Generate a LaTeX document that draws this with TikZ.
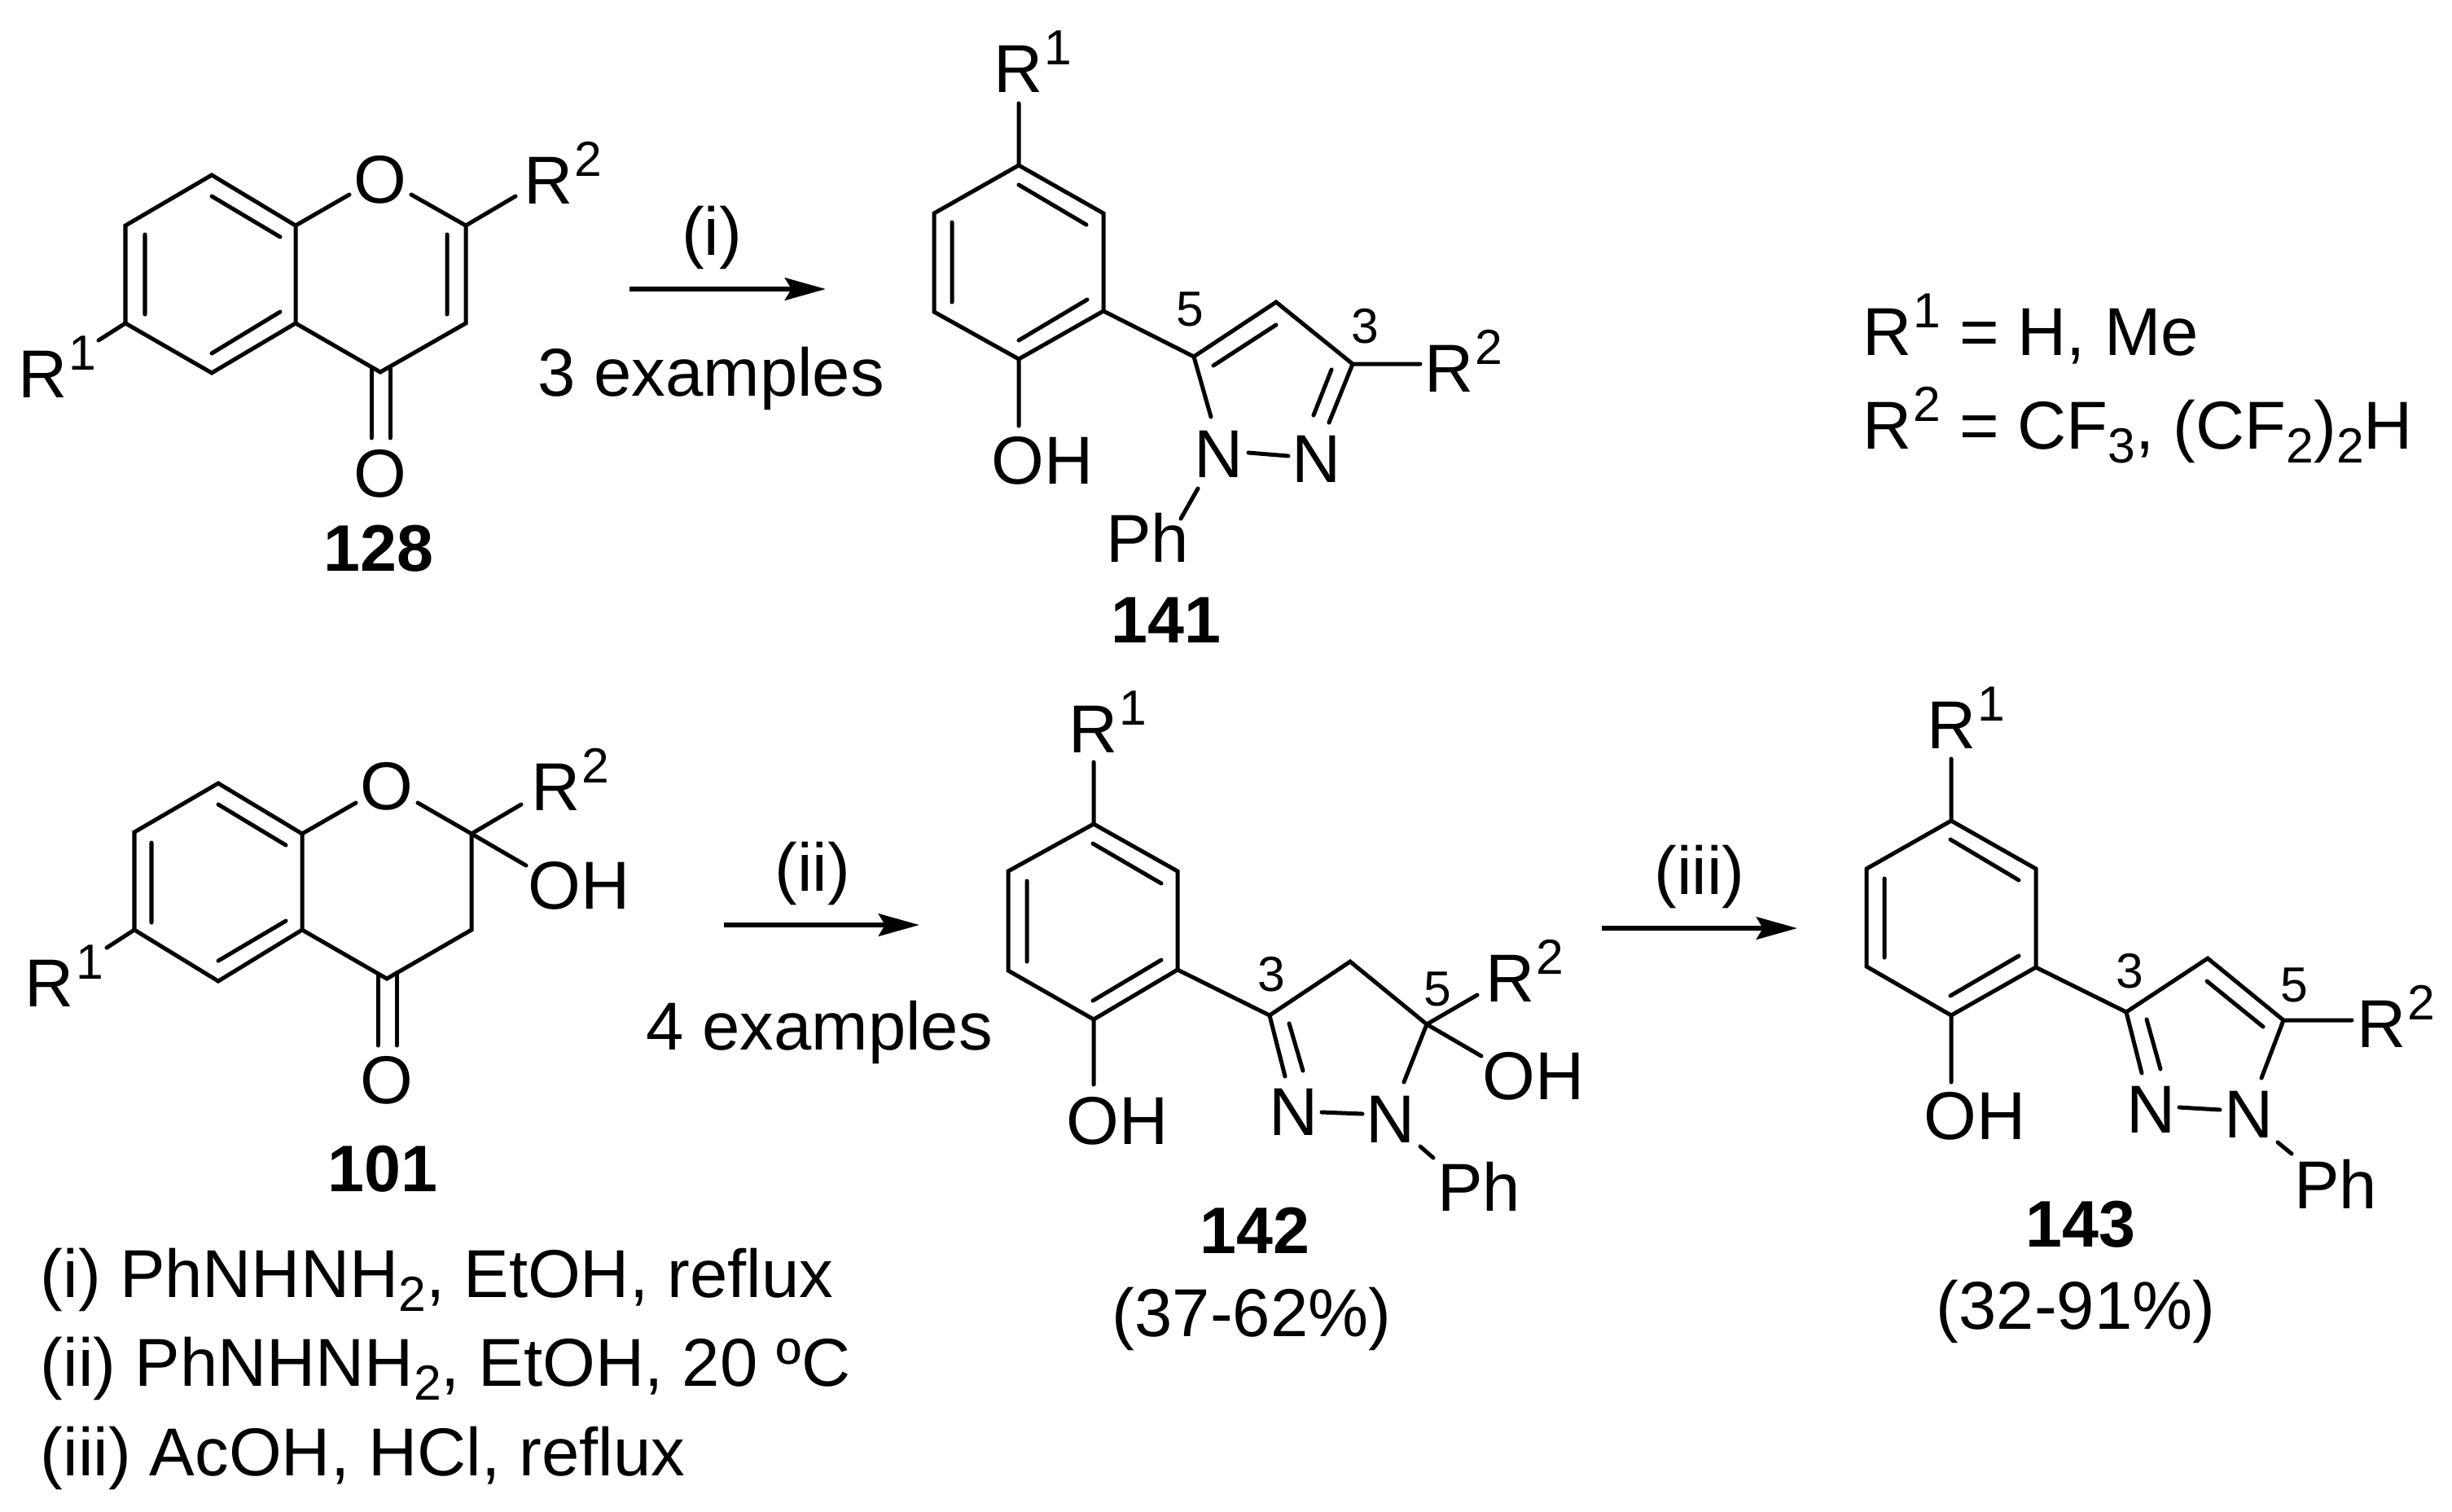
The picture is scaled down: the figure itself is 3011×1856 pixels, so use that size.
\documentclass[tikz,border=0pt]{standalone}
\usepackage{fontspec}
\setmainfont{Liberation Sans}
\usetikzlibrary{arrows.meta}
\newcommand{\mainsz}{\fontsize{47.4}{50}\selectfont}
\newcommand{\boldsz}{\fontsize{46}{50}\selectfont}
\newcommand{\smallsz}{\fontsize{34.5}{36}\selectfont}
\newcommand{\Rsup}[1]{R\kern1.2pt\raisebox{19pt}{\smallsz #1}}
\newcommand{\sbs}[1]{\raisebox{-9.7pt}{\smallsz #1}}
\tikzset{
  x=0.02cm,y=-0.02cm,
  lab/.style={inner sep=0pt,outer sep=0pt,anchor=base west,font=\mainsz,text=black},
  cen/.style={inner sep=0pt,outer sep=0pt,anchor=base,font=\mainsz,text=black},
  boldlab/.style={cen,font=\boldsz\bfseries},
  locant/.style={inner sep=0pt,outer sep=0pt,anchor=base,font=\smallsz,text=black},
  bond/.style={draw=black,line width=2.85pt,line join=miter,line cap=round},
  rxn/.style={draw=black,line width=3.4pt,-{Stealth[length=28.5pt,width=15.6pt,inset=4.5pt]}},
}
\begin{document}
\begin{tikzpicture}
\useasboundingbox[fill=white] (0,0) rectangle (3011,1856);

% ---------- 128 ----------
\coordinate (a1) at (260,215); \coordinate (a2) at (154,277); \coordinate (a3) at (154,397);
\coordinate (a4) at (260,458); \coordinate (a5) at (363,397); \coordinate (a6) at (363,277);
\coordinate (a7) at (572,277); \coordinate (a8) at (572,397); \coordinate (a9) at (467,457);
\coordinate (aOl) at (429,239); \coordinate (aOr) at (505,239);
\coordinate (aR1) at (121,418); \coordinate (aR2) at (633,241);
\coordinate (ai1) at (260,241); \coordinate (ai2) at (344,291);
\coordinate (ai3) at (178,288); \coordinate (ai4) at (178,386);
\coordinate (ai5) at (344,383); \coordinate (ai6) at (260,434);
\coordinate (ai7) at (549,288); \coordinate (ai8) at (549,386);
\coordinate (aC1) at (456,451); \coordinate (aC2) at (456,538);
\coordinate (aC3) at (479,451); \coordinate (aC4) at (479,538);
\draw[bond] (a1)--(a2)--(a3)--(a4)--(a5)--(a6)--cycle;
\draw[bond] (a6)--(aOl) (aOr)--(a7)--(a8)--(a9)--(a5);
\draw[bond] (a3)--(aR1) (a7)--(aR2);
\draw[bond] (ai1)--(ai2) (ai3)--(ai4) (ai5)--(ai6) (ai7)--(ai8);
\draw[bond] (aC1)--(aC2) (aC3)--(aC4);
\node[cen] (aO) at (467,249) {O};
\node[cen] (aO2) at (467,610) {O};
\node[lab] (aRa) at (22,488) {\Rsup{1}};
\node[lab] (aRb) at (643,250) {\Rsup{2}};
\node[boldlab] (aN) at (465,701) {128};

% ---------- arrow 1 ----------
\coordinate (r1s) at (773,355); \coordinate (r1e) at (1014,355);
\draw[rxn] (r1s)--(r1e);
\node[cen] (r1t) at (874,313) {(i)};
\node[cen] (r1b) at (873,486) {3 examples};

% ---------- 141 ----------
\coordinate (b1) at (1251,203); \coordinate (b2) at (1355,262); \coordinate (b3) at (1355,382);
\coordinate (b4) at (1251,441); \coordinate (b5) at (1147,383); \coordinate (b6) at (1147,262);
\coordinate (bR1) at (1251,127); \coordinate (bOH) at (1251,523);
\coordinate (bi1) at (1251,227); \coordinate (bi2) at (1334,276);
\coordinate (bi3) at (1169,273); \coordinate (bi4) at (1169,371);
\coordinate (bi5) at (1335,368); \coordinate (bi6) at (1251,418);
\coordinate (b7) at (1466,438); \coordinate (b8) at (1567,371); \coordinate (b9) at (1661,447);
\coordinate (bi7) at (1490,449); \coordinate (bi8) at (1567,399);
\coordinate (bi9) at (1635,454); \coordinate (bi10) at (1613,510);
\coordinate (bN2e) at (1632,519); \coordinate (bN1e) at (1487,512);
\coordinate (bNa) at (1533,556); \coordinate (bNb) at (1582,560);
\coordinate (bPa) at (1471,600); \coordinate (bPb) at (1450,637);
\coordinate (bR2) at (1744,447);
\draw[bond] (b1)--(b2)--(b3)--(b4)--(b5)--(b6)--cycle;
\draw[bond] (b1)--(bR1) (b4)--(bOH) (b3)--(b7);
\draw[bond] (bN1e)--(b7)--(b8)--(b9)--(bN2e) (b9)--(bR2);
\draw[bond] (bi1)--(bi2) (bi3)--(bi4) (bi5)--(bi6) (bi7)--(bi8) (bi9)--(bi10);
\draw[bond] (bNa)--(bNb) (bPa)--(bPb);
\node[lab] (bRa) at (1220,113) {\Rsup{1}};
\node[cen] (bO) at (1280,594) {OH};
\node[cen] (bN1) at (1497,586) {N};
\node[cen] (bN2) at (1617,592) {N};
\node[lab] (bPh) at (1358,690) {Ph};
\node[lab] (bRb) at (1749,481) {\Rsup{2}};
\node[locant] (b5n) at (1461,400) {5};
\node[locant] (b3n) at (1676,421) {3};
\node[boldlab] (bN) at (1432,789) {141};

% ---------- R legend ----------
\node[lab] (leg1) at (2287,436) {\Rsup{1} = H, Me};
\node[lab] (leg2) at (2287,551) {\Rsup{2} = CF\sbs{3}, (CF\sbs{2})\sbs{2}H};

% ---------- 101 ----------
\coordinate (c1) at (268,962); \coordinate (c2) at (165,1022); \coordinate (c3) at (165,1142);
\coordinate (c4) at (268,1205); \coordinate (c5) at (371,1142); \coordinate (c6) at (371,1024);
\coordinate (c7) at (579,1024); \coordinate (c8) at (579,1142); \coordinate (c9) at (475,1202);
\coordinate (cOl) at (437,986); \coordinate (cOr) at (513,986);
\coordinate (cR1) at (131,1164); \coordinate (cR2) at (640,988); \coordinate (cOH) at (646,1063);
\coordinate (ci1) at (268,988); \coordinate (ci2) at (351,1038);
\coordinate (ci3) at (186,1035); \coordinate (ci4) at (186,1133);
\coordinate (ci5) at (351,1131); \coordinate (ci6) at (268,1180);
\coordinate (cC1) at (464,1196); \coordinate (cC2) at (464,1284);
\coordinate (cC3) at (487,1196); \coordinate (cC4) at (487,1284);
\draw[bond] (c1)--(c2)--(c3)--(c4)--(c5)--(c6)--cycle;
\draw[bond] (c6)--(cOl) (cOr)--(c7)--(c8)--(c9)--(c5);
\draw[bond] (c3)--(cR1) (c7)--(cR2) (c7)--(cOH);
\draw[bond] (ci1)--(ci2) (ci3)--(ci4) (ci5)--(ci6);
\draw[bond] (cC1)--(cC2) (cC3)--(cC4);
\node[cen] (cO) at (475,994) {O};
\node[cen] (cO2) at (475,1355) {O};
\node[lab] (cRa) at (31,1236) {\Rsup{1}};
\node[lab] (cRb) at (652,995) {\Rsup{2}};
\node[cen] (cOHl) at (711,1116) {OH};
\node[boldlab] (cN) at (470,1463) {101};

% ---------- arrow 2 ----------
\coordinate (r2s) at (889,1136); \coordinate (r2e) at (1129,1136);
\draw[rxn] (r2s)--(r2e);
\node[cen] (r2t) at (998,1094) {(ii)};
\node[cen] (r2b) at (1006,1289) {4 examples};

% ---------- 142 ----------
\coordinate (d1) at (1343,1012); \coordinate (d2) at (1446,1070); \coordinate (d3) at (1446,1191);
\coordinate (d4) at (1343,1252); \coordinate (d5) at (1238,1192); \coordinate (d6) at (1238,1070);
\coordinate (dR1) at (1343,936); \coordinate (dOH) at (1343,1332);
\coordinate (di1) at (1342,1036); \coordinate (di2) at (1426,1085);
\coordinate (di3) at (1261,1082); \coordinate (di4) at (1261,1181);
\coordinate (di5) at (1426,1179); \coordinate (di6) at (1342,1229);
\coordinate (d7) at (1559,1247); \coordinate (d8) at (1658,1181); \coordinate (d9) at (1752,1258);
\coordinate (dNe) at (1578,1322); \coordinate (di7) at (1583,1257); \coordinate (di8) at (1600,1315);
\coordinate (dN1e) at (1724,1329); \coordinate (dR2) at (1814,1222); \coordinate (dOHb) at (1819,1297);
\coordinate (dNa) at (1623,1366); \coordinate (dNb) at (1673,1368);
\coordinate (dPa) at (1744,1408); \coordinate (dPb) at (1760,1422);
\draw[bond] (d1)--(d2)--(d3)--(d4)--(d5)--(d6)--cycle;
\draw[bond] (d1)--(dR1) (d4)--(dOH) (d3)--(d7);
\draw[bond] (dNe)--(d7)--(d8)--(d9)--(dN1e) (d9)--(dR2) (d9)--(dOHb);
\draw[bond] (di1)--(di2) (di3)--(di4) (di5)--(di6) (di7)--(di8);
\draw[bond] (dNa)--(dNb) (dPa)--(dPb);
\node[lab] (dRa) at (1312,924) {\Rsup{1}};
\node[cen] (dO) at (1372,1405) {OH};
\node[cen] (dN1) at (1589,1394) {N};
\node[cen] (dN2) at (1708,1403) {N};
\node[lab] (dPh) at (1765,1487) {Ph};
\node[lab] (dRb) at (1824,1230) {\Rsup{2}};
\node[cen] (dO2) at (1883,1350) {OH};
\node[locant] (d3n) at (1561,1217) {3};
\node[locant] (d5n) at (1765,1235) {5};
\node[boldlab] (dN) at (1541,1539) {142};
\node[cen] (dY) at (1537,1641) {(37-62\%)};

% ---------- arrow 3 ----------
\coordinate (r3s) at (1967,1140); \coordinate (r3e) at (2207,1140);
\draw[rxn] (r3s)--(r3e);
\node[cen] (r3t) at (2087,1098) {(iii)};

% ---------- 143 ----------
\coordinate (e1) at (2396,1008); \coordinate (e2) at (2500,1067); \coordinate (e3) at (2500,1188);
\coordinate (e4) at (2396,1247); \coordinate (e5) at (2292,1187); \coordinate (e6) at (2292,1067);
\coordinate (eR1) at (2396,932); \coordinate (eOH) at (2396,1329);
\coordinate (ei1) at (2395,1031); \coordinate (ei2) at (2479,1081);
\coordinate (ei3) at (2314,1079); \coordinate (ei4) at (2314,1176);
\coordinate (ei5) at (2479,1174); \coordinate (ei6) at (2395,1223);
\coordinate (e7) at (2611,1243); \coordinate (e8) at (2711,1177); \coordinate (e9) at (2804,1253);
\coordinate (eNe) at (2630,1318); \coordinate (ei7) at (2636,1252); \coordinate (ei8) at (2653,1313);
\coordinate (ei9) at (2710,1205); \coordinate (ei10) at (2779,1261);
\coordinate (eN1e) at (2777,1324); \coordinate (eR2) at (2888,1253);
\coordinate (eNa) at (2676,1360); \coordinate (eNb) at (2726,1363);
\coordinate (ePa) at (2797,1403); \coordinate (ePb) at (2814,1417);
\draw[bond] (e1)--(e2)--(e3)--(e4)--(e5)--(e6)--cycle;
\draw[bond] (e1)--(eR1) (e4)--(eOH) (e3)--(e7);
\draw[bond] (eNe)--(e7)--(e8)--(e9)--(eN1e) (e9)--(eR2);
\draw[bond] (ei1)--(ei2) (ei3)--(ei4) (ei5)--(ei6) (ei7)--(ei8) (ei9)--(ei10);
\draw[bond] (eNa)--(eNb) (ePa)--(ePb);
\node[lab] (eRa) at (2366,919) {\Rsup{1}};
\node[cen] (eO) at (2425,1399) {OH};
\node[cen] (eN1) at (2642,1391) {N};
\node[cen] (eN2) at (2762,1397) {N};
\node[lab] (ePh) at (2817,1484) {Ph};
\node[lab] (eRb) at (2894,1286) {\Rsup{2}};
\node[locant] (e3n) at (2615,1213) {3};
\node[locant] (e5n) at (2817,1230) {5};
\node[boldlab] (eN) at (2555,1531) {143};
\node[cen] (eY) at (2549,1632) {(32-91\%)};

% ---------- conditions ----------
\node[lab] (cond1) at (50,1593) {(i) PhNHNH\sbs{2}, EtOH, reflux};
\node[lab] (cond2) at (50,1702) {(ii) PhNHNH\sbs{2}, EtOH, 20 ºC};
\node[lab] (cond3) at (50,1812) {(iii) AcOH, HCl, reflux};
\end{tikzpicture}
\end{document}
